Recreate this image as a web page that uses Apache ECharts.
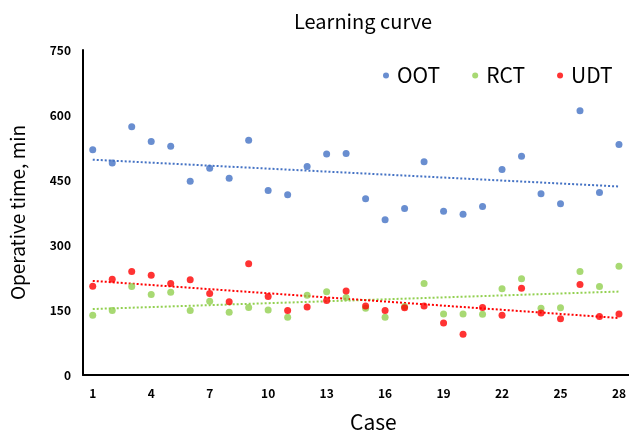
<!DOCTYPE html>
<html>
<head>
<meta charset="utf-8">
<script src="https://cdn.jsdelivr.net/npm/echarts@6/dist/echarts.min.js"></script>
<style>
html, body { margin: 0; padding: 0; background: #fff; }
#main { width: 629px; height: 438px; }
</style>
</head>
<body>
<div id="main"></div>
<script>
// 症例番号
var cases = [];
for (var i = 1; i <= 28; i++) cases.push(String(i));

var oot = [520, 489, 573, 539, 528, 447, 477, 454, 542, 426, 416, 481, 510, 511,
           407, 358, 384, 492, 378, 371, 389, 474, 505, 418, 395, 610, 421, 532];
var rct = [138, 149, 204, 186, 191, 149, 170, 145, 156, 150, 133, 184, 192, 179,
           154, 133, 158, 211, 141, 141, 140, 199, 222, 154, 155, 239, 204, 251];
var udt = [205, 221, 239, 230, 211, 220, 188, 169, 257, 181, 149, 157, 172, 194,
           159, 149, 155, 159, 120, 94, 156, 138, 200, 143, 130, 209, 135, 141];

var yTicks = [0, 150, 300, 450, 600, 750];

function trend(arr) { // 最小二乗法の近似直線
    var n = arr.length, sx = 0, sy = 0, sxy = 0, sxx = 0;
    for (var i = 0; i < n; i++) {
        var x = i + 1;
        sx += x; sy += arr[i]; sxy += x * arr[i]; sxx += x * x;
    }
    var b = (n * sxy - sx * sy) / (n * sxx - sx * sx);
    var a = (sy - b * sx) / n;
    var res = [];
    for (var i = 0; i < n; i++) res.push(a + b * (i + 1));
    return res;
}

var colors = ['#4472C4', '#92D050', '#FF0000'];
var font = '"Noto Sans CJK JP", "Noto Sans", sans-serif';

function dots(name, data, color) {
    return {
        name: name, type: 'scatter', data: data, symbolSize: 7,
        itemStyle: { color: color }, z: 3
    };
}
function tline(data, color) {
    return {
        type: 'line', data: trend(data), symbol: 'none', silent: true,
        lineStyle: { color: color, width: 2, type: [2, 2] }, z: 2
    };
}

var chart = echarts.init(document.getElementById('main'));
chart.setOption({
    animation: false,
    textStyle: { fontFamily: font },
    title: {
        text: 'Learning curve', left: 289, top: 6,
        textStyle: { fontFamily: font, fontSize: 20, fontWeight: 'normal', color: '#000' }
    },
    legend: {
        data: ['OOT', 'RCT', 'UDT'], left: 378, top: 60,
        icon: 'circle', itemWidth: 6, itemHeight: 6, itemGap: 32,
        textStyle: { fontFamily: font, fontSize: 21, color: '#000', padding: [0, 0, 0, 3] }
    },
    grid: { left: 80, right: 0, top: 50, bottom: 56 },
    xAxis: {
        type: 'category', data: cases, boundaryGap: true,
        name: 'Case', nameLocation: 'middle', nameGap: 37,
        nameTextStyle: { fontFamily: font, fontSize: 21, color: '#000', padding: [0, 0, 0, 35] },
        axisLine: { lineStyle: { color: '#000', width: 2 } },
        axisTick: { show: false },
        axisLabel: { interval: 2, color: '#000', fontWeight: 'bold', fontSize: 12, margin: 12 },
        splitLine: { show: false }
    },
    yAxis: {
        type: 'value', min: yTicks[0], max: yTicks[yTicks.length - 1], interval: 150,
        name: 'Operative time, min', nameLocation: 'middle', nameGap: 56,
        nameTextStyle: { fontFamily: font, fontSize: 19, color: '#000' },
        axisLine: { show: true, lineStyle: { color: '#000', width: 2 } },
        axisTick: { show: false },
        axisLabel: { color: '#000', fontWeight: 'bold', fontSize: 12, margin: 12 },
        splitLine: { show: false }
    },
    series: [
        dots('OOT', oot, colors[0]),
        dots('RCT', rct, colors[1]),
        dots('UDT', udt, colors[2]),
        tline(oot, colors[0]),
        tline(rct, colors[1]),
        tline(udt, colors[2])
    ]
});
</script>
</body>
</html>
